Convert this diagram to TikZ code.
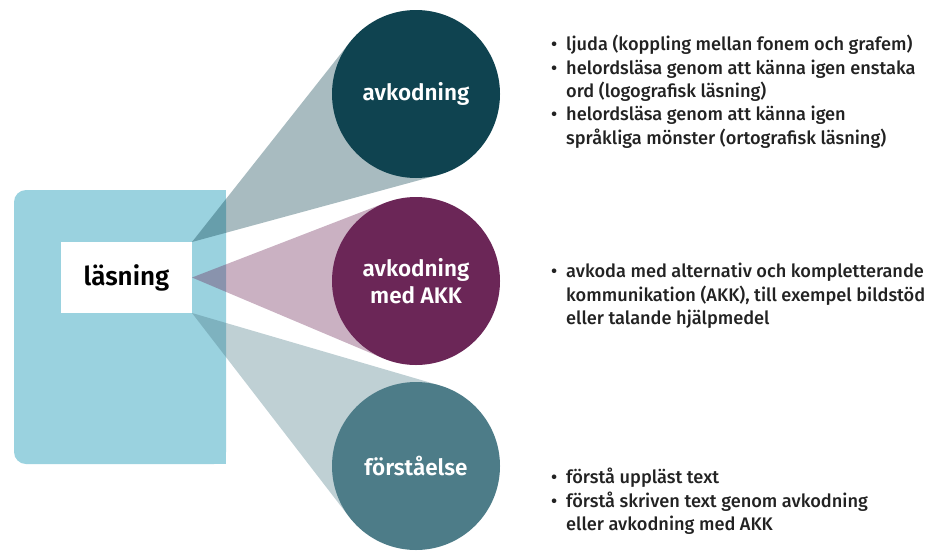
\documentclass[tikz,border=0pt]{standalone}
\usepackage{fontspec}
\setmainfont{Fira Sans}[UprightFont=* Medium, BoldFont=* SemiBold]
\usetikzlibrary{calc}
\usetikzlibrary{backgrounds}

\definecolor{rectblue}{HTML}{9AD2DF}
\definecolor{avkteal}{HTML}{0F4350}
\definecolor{akkpurple}{HTML}{6B2657}
\definecolor{forstteal}{HTML}{4D7C88}
\definecolor{listgrey}{HTML}{222222}

\newcommand{\blt}{\makebox[15pt][l]{•}}
\newcommand{\bind}{\hspace*{15pt}}

\begin{document}
\begin{tikzpicture}[x=1pt, y=-1pt,
  bubble/.style={circle, minimum size=168pt, inner sep=0, outer sep=0, text=white,
    font=\fontsize{22.5}{27}\selectfont\bfseries, align=center},
  cone/.style={fill opacity=0.36},
  bullets/.style={anchor=north west, inner sep=0, align=left, text=listgrey,
    font=\fontsize{18.2}{23.4}\selectfont}]
\useasboundingbox (0,0) rectangle (947,552);

\node[fill=white, minimum width=131pt, minimum height=71pt, inner sep=0, outer sep=0,
  font=\fontsize{26}{30}\selectfont\bfseries] (lasn) at (126.5,277.5) {läsning};

\node[bubble, fill=avkteal] (avk) at (416,94) {avkodning};
\node[bubble, fill=akkpurple] (akk) at (416,281) {avkodning\\med AKK};
\node[bubble, fill=forstteal] (forst) at (416,466) {förståelse};

\begin{pgfonlayer}{background}
\fill[rectblue, rounded corners=12pt] (14,190) rectangle (226,464);
\fill[rectblue] (200,190) rectangle (226,464);
\foreach \apex/\bub/\col in {north east/avk/avkteal, east/akk/akkpurple, south east/forst/forstteal} {
 \fill[\col, cone] (lasn.\apex) -- (tangent cs:node=\bub,point={(lasn.\apex)},solution=1)
   -- (\bub.center) -- (tangent cs:node=\bub,point={(lasn.\apex)},solution=2) -- cycle;
}
\end{pgfonlayer}

\node[bullets] (list1) at (551,35) {\blt ljuda (koppling mellan fonem och grafem)\\
  \blt helordsläsa genom att känna igen enstaka\\
  \bind ord (logografisk läsning)\\
  \blt helordsläsa genom att känna igen\\
  \bind språkliga mönster (ortografisk läsning)};
\node[bullets] (list2) at (551,263) {\blt avkoda med alternativ och kompletterande\\
  \bind kommunikation (AKK), till exempel bildstöd\\
  \bind eller talande hjälpmedel};
\node[bullets] (list3) at (551,468) {\blt förstå uppläst text\\
  \blt förstå skriven text genom avkodning\\
  \bind eller avkodning med AKK};
\end{tikzpicture}
\end{document}
